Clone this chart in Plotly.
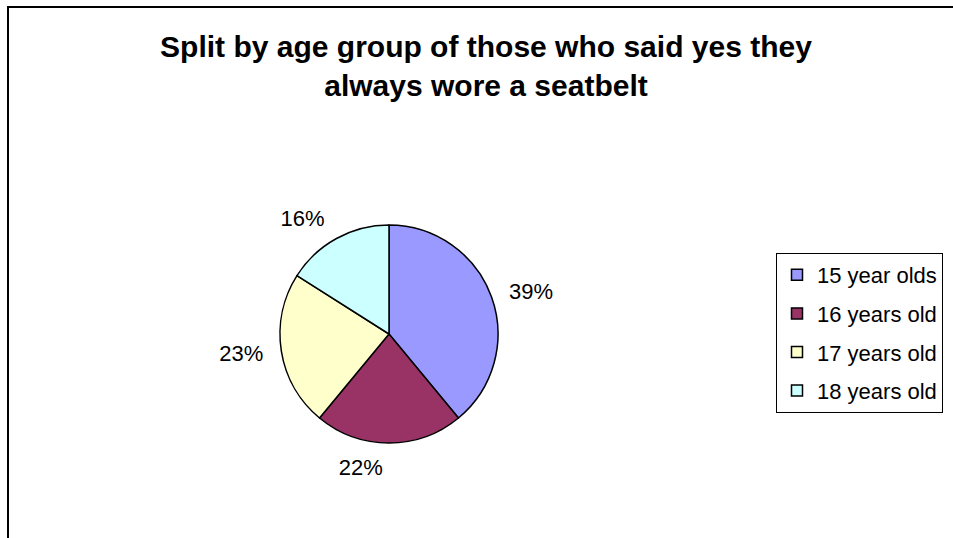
import plotly.graph_objects as go

# age groups and their share of "yes, always wore a seatbelt"
age_groups = ['15 year olds', '16 years old', '17 years old', '18 years old']
shares = [39, 22, 23, 16]
slice_colors = ['#9999FF', '#993366', '#FFFFCC', '#CCFFFF']

W, H = 953, 538
FONT = 'Liberation Sans, Arial, sans-serif'
cx, cy, r = 389, 334, 109
r_txt = r + 12  # invisible pie used only to push the % labels further out


def dom(rad):
    return dict(x=[(cx - rad) / W, (cx + rad) / W],
                y=[(H - cy - rad) / H, (H - cy + rad) / H])


fig = go.Figure()
fig.add_trace(go.Pie(
    labels=age_groups, values=shares, sort=False,
    direction='clockwise', rotation=0,
    marker=dict(colors=slice_colors, line=dict(color='black', width=1.5)),
    textinfo='none', domain=dom(r), showlegend=False,
    hoverinfo='label+percent',
))
fig.add_trace(go.Pie(
    labels=age_groups, values=shares, sort=False,
    direction='clockwise', rotation=0,
    marker=dict(colors=['rgba(0,0,0,0)'] * len(shares), line=dict(width=0)),
    texttemplate='%{percent:.0%}', textposition='outside',
    textfont=dict(family=FONT, size=22, color='black'),
    domain=dom(r_txt), showlegend=False, hoverinfo='skip',
))

# legend entries (separate groups so the row spacing can be set)
for name, col in zip(age_groups, slice_colors):
    fig.add_trace(go.Scatter(
        x=[None], y=[None], mode='markers', name=name, legendgroup=name,
        marker=dict(symbol='square', size=11, color=col, line=dict(color='black', width=1.5)),
    ))

fig.update_layout(
    width=W, height=H,
    margin=dict(l=0, r=0, t=0, b=0, autoexpand=False),
    paper_bgcolor='white', plot_bgcolor='white',
    font=dict(family=FONT, color='black'),
    xaxis=dict(visible=False), yaxis=dict(visible=False),
    title=dict(text='<b>Split by age group of those who said yes they<br>always wore a seatbelt</b>',
               x=486 / W, xanchor='center', y=1 - 57 / H, yanchor='top',
               font=dict(size=30, color='black')),
    legend=dict(x=776 / W, xanchor='left', y=1 - 253 / H, yanchor='top',
                bordercolor='black', borderwidth=1, bgcolor='white',
                font=dict(size=22), itemwidth=30, tracegroupgap=7,
                traceorder='grouped'),
    shapes=[
        # chart frame: only the top and left edges are inside the window
        dict(type='line', xref='paper', yref='paper', x0=8 / W, x1=1, y0=1 - 7 / H, y1=1 - 7 / H,
             line=dict(color='black', width=2)),
        dict(type='line', xref='paper', yref='paper', x0=8 / W, x1=8 / W, y0=0, y1=1 - 6 / H,
             line=dict(color='black', width=2)),
    ],
)

# no page margin, so figure pixels are window pixels
fig.write_html('out.html', config={'displayModeBar': False},
               post_script="document.body.style.margin='0';")
